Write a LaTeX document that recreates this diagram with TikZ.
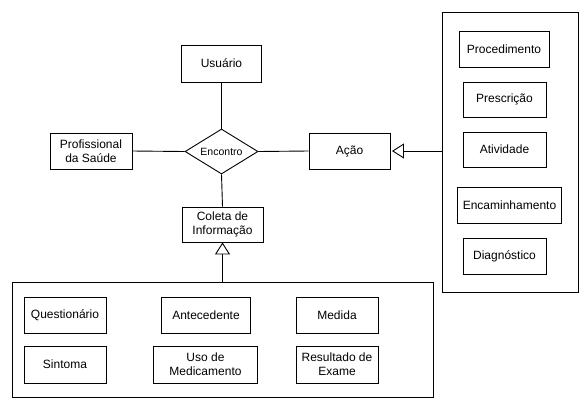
\documentclass[tikz,border=0pt]{standalone}
\usepackage{fontspec}
\setmainfont{Liberation Sans}
\usetikzlibrary{shapes.geometric,arrows.meta}
\begin{document}
\begin{tikzpicture}[x=1pt,y=-1pt,
  box/.style={draw,line width=0.9pt,inner sep=0pt,align=center,font=\fontsize{12}{14}\selectfont},
  cont/.style={draw,line width=0.9pt,inner sep=0pt},
  link/.style={line width=0.9pt},
  gen/.style={line width=0.9pt,-{Triangle[open,length=12pt,width=15pt,line width=0.9pt]}}]
\useasboundingbox (0,0) rectangle (588,408);
% containers
\node[cont,minimum width=136pt,minimum height=280pt] (rc) at (510,152) {};
\node[cont,minimum width=421pt,minimum height=115pt] (bc) at (222.5,339.5) {};
% main nodes
\node[box,minimum width=80pt,minimum height=37pt] (usu) at (221.5,63.5) {Usuário};
\node[box,minimum width=82pt,minimum height=36pt] (prof) at (91,151) {Profissional\\da Saúde};
\node[draw,line width=0.9pt,diamond,aspect=1.62,inner sep=0pt,minimum width=73pt,minimum height=45pt,font=\fontsize{10.5}{12}\selectfont] (enc) at (221.5,151.5) {Encontro};
\node[box,minimum width=81pt,minimum height=36pt] (acao) at (349.5,151) {Ação};
\node[box,minimum width=81pt,minimum height=35pt] (col) at (222.5,224.5) {Coleta de\\Informação};
% right group
\node[box,minimum width=90pt,minimum height=36pt] (proc) at (504,49) {Procedimento};
\node[box,minimum width=83pt,minimum height=35pt] (presc) at (504.5,99.5) {Prescrição};
\node[box,minimum width=83pt,minimum height=35pt] (ativ) at (504.5,149.5) {Atividade};
\node[box,minimum width=104pt,minimum height=36pt] (encam) at (509.5,205) {Encaminhamento};
\node[box,minimum width=83pt,minimum height=36pt] (diag) at (504.5,256) {Diagnóstico};
% bottom group
\node[box,minimum width=82pt,minimum height=36pt] (quest) at (65,315) {Questionário};
\node[box,minimum width=89pt,minimum height=36pt] (ante) at (206,315) {Antecedente};
\node[box,minimum width=82pt,minimum height=36pt] (med) at (337,315) {Medida};
\node[box,minimum width=82pt,minimum height=37pt] (sint) at (65,364.5) {Sintoma};
\node[box,minimum width=104pt,minimum height=37pt] (uso) at (205.5,364.5) {Uso de\\Medicamento};
\node[box,minimum width=82pt,minimum height=37pt] (res) at (337,364.5) {Resultado de\\Exame};
% connectors
\draw[link] (usu.south) -- (enc.north);
\draw[link] (prof.east) -- (enc.west);
\draw[link] (enc.east) -- (acao.west);
\draw[link] (enc.south) -- (col.north);
\draw[gen] (rc.west |- acao.east) -- ([xshift=1.5pt]acao.east);
\draw[gen] (bc.north -| col.south) -- (col.south);
\end{tikzpicture}
\end{document}
